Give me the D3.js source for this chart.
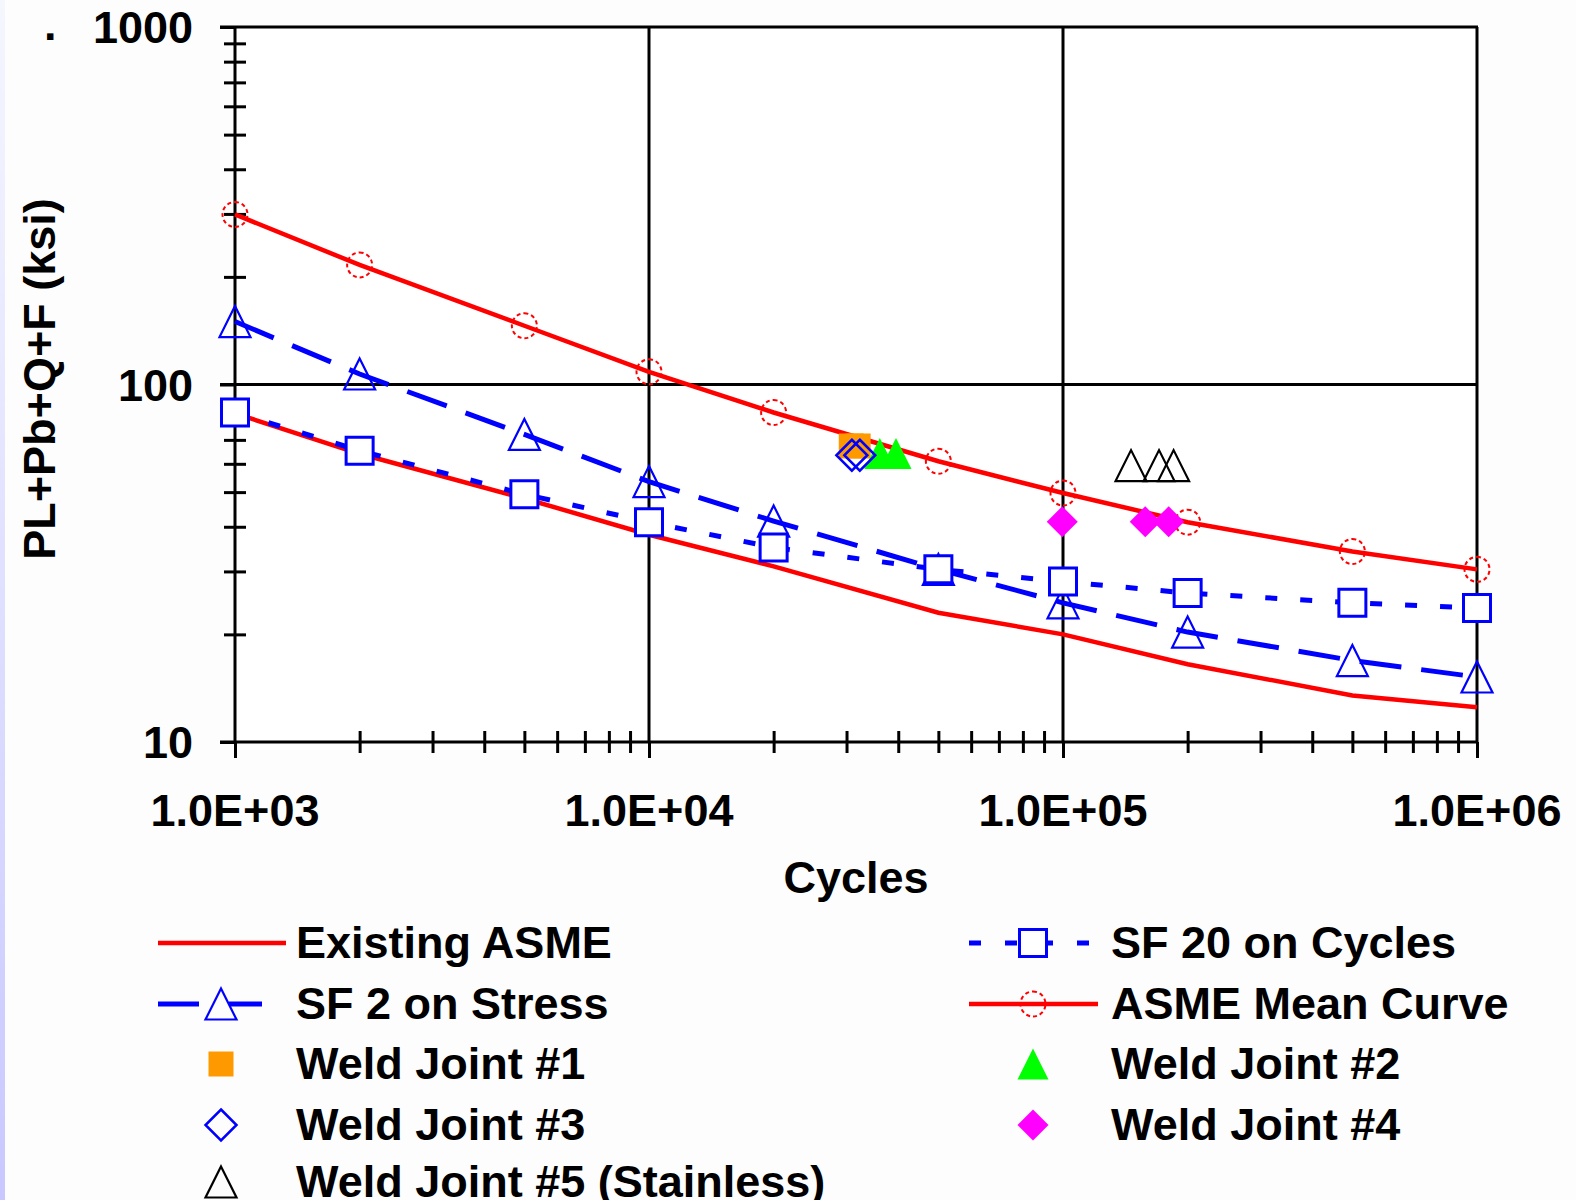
<!DOCTYPE html>
<html lang="en">
  <head>
    <meta charset="UTF-8" />
    <title>Fatigue Design Curves</title>
    <script src="https://d3js.org/d3.v7.min.js"></script>
    <style>
      body {
        margin: 0;
        background: #fdfdfd;
      }
      svg {
        display: block;
      }
      text {
        font-family: 'Liberation Sans', Arial, sans-serif;
        font-weight: bold;
        font-size: 45px;
        fill: #000;
      }
    </style>
  </head>
  <body>
    <svg id="chart" width="1576" height="1200"></svg>
    <script>
      // Curve data (stress in ksi at each cycle count)
      const cycles = [1e3, 2e3, 5e3, 1e4, 2e4, 5e4, 1e5, 2e5, 5e5, 1e6];
      const existingAsme = [83, 64, 48, 38, 31, 23, 20, 16.5, 13.5, 12.5];
      const sf2Stress = [150, 107, 72.5, 53.5, 41.5, 30.4, 24.5, 20.3, 16.9, 15.2];
      const sf20Cycles = [83.5, 65.3, 49.3, 41.2, 35, 30.4, 28.1, 26.1, 24.5, 23.7];
      const asmeMean = [299, 216, 146, 108.5, 83.5, 61, 49.7, 41.2, 34.1, 30.4];

      // Test points [cycles, stress]
      const weld1 = [[30800, 67.3], [32000, 67.3]];
      const weld2 = [[36100, 64.1], [39500, 64.1]];
      const weld3 = [[30900, 63.4], [32300, 63.4]];
      const weld4 = [[99600, 41.3], [158000, 41.3], [180000, 41.3]];
      const weld5 = [[146000, 59.3], [170600, 59.3], [185000, 59.3]];

      const xTickLabels = ['1.0E+03', '1.0E+04', '1.0E+05', '1.0E+06'];
      const yTickLabels = ['10', '100', '1000'];

      const svg = d3.select('#chart');

      // faint stripe on the left edge
      const grad = svg.append('defs').append('linearGradient')
        .attr('id', 'edge').attr('x1', 0).attr('y1', 0).attr('x2', 0).attr('y2', 1);
      grad.append('stop').attr('offset', 0).attr('stop-color', '#f6f6ff');
      grad.append('stop').attr('offset', 1).attr('stop-color', '#c8c8ff');
      svg.append('rect').attr('width', 5).attr('height', 1200).attr('fill', 'url(#edge)');

      const x = d3.scaleLog().domain([1e3, 1e6]).range([235, 1477]);
      const y = d3.scaleLog().domain([10, 1000]).range([742, 27]);

      const g = svg.append('g');
      g.append('rect')
        .attr('x', 235).attr('y', 27)
        .attr('width', 1477 - 235).attr('height', 742 - 27)
        .attr('fill', '#fff');

      const isMajor = (v) => Math.abs(Math.log10(v) - Math.round(Math.log10(v))) < 1e-9;

      // x axis ticks
      const xAxis = g.append('g')
        .attr('transform', 'translate(0,742)')
        .call(d3.axisBottom(x).tickValues(x.ticks()).tickFormat(''));
      xAxis.select('.domain').remove();
      xAxis.selectAll('.tick line')
        .attr('stroke', '#000').attr('stroke-width', 3)
        .attr('y1', (d) => (isMajor(d) ? 0 : -11))
        .attr('y2', (d) => (isMajor(d) ? 16 : 11));

      // y axis ticks
      const yAxis = g.append('g')
        .attr('transform', 'translate(235,0)')
        .call(d3.axisLeft(y).tickValues(y.ticks()).tickFormat(''));
      yAxis.select('.domain').remove();
      yAxis.selectAll('.tick line')
        .attr('stroke', '#000').attr('stroke-width', 3)
        .attr('x1', (d) => (isMajor(d) ? -15 : -11))
        .attr('x2', (d) => (isMajor(d) ? 0 : 11));

      // grid lines and frame
      const majorX = x.ticks().filter(isMajor);
      const majorY = y.ticks().filter(isMajor);
      g.selectAll('.vgrid').data(majorX).join('line')
        .attr('x1', (d) => x(d)).attr('x2', (d) => x(d))
        .attr('y1', 27).attr('y2', 742)
        .attr('stroke', '#000').attr('stroke-width', 3);
      g.selectAll('.hgrid').data(majorY).join('line')
        .attr('x1', 220).attr('x2', 1478)
        .attr('y1', (d) => y(d)).attr('y2', (d) => y(d))
        .attr('stroke', '#000').attr('stroke-width', 3);

      // tick labels
      g.selectAll('.xlab').data(majorX).join('text')
        .attr('x', (d) => x(d)).attr('y', 826)
        .attr('text-anchor', 'middle')
        .text((d, i) => xTickLabels[i]);
      g.selectAll('.ylab').data(majorY).join('text')
        .attr('x', 193).attr('y', (d) => y(d) + 16)
        .attr('text-anchor', 'end')
        .text((d, i) => yTickLabels[i]);
      svg.append('text').attr('x', 44).attr('y', 40).text('.');

      svg.append('text')
        .attr('x', 856).attr('y', 893)
        .attr('text-anchor', 'middle')
        .text('Cycles');
      svg.append('text')
        .attr('transform', 'translate(55,379) rotate(-90)')
        .attr('text-anchor', 'middle')
        .text('PL+Pb+Q+F (ksi)');

      // marker shapes, centred on their bounding box
      function markerPath(shape, s) {
        const h = s / 2;
        if (shape === 'square') return `M${-h},${-h}H${h}V${h}H${-h}Z`;
        if (shape === 'triangle') return `M0,${-h}L${h},${h}L${-h},${h}Z`;
        if (shape === 'diamond') return `M0,${-h}L${h},0L0,${h}L${-h},0Z`;
        return d3.arc()({ innerRadius: 0, outerRadius: h, startAngle: 0, endAngle: 2 * Math.PI });
      }

      const lineSeries = [
        { name: 'Existing ASME', values: existingAsme, color: '#ff0000', width: 4.5, dash: null, marker: null },
        { name: 'SF 2 on Stress', values: sf2Stress, color: '#0000ff', width: 5, dash: '42,20',
          marker: { shape: 'triangle', size: 31, fill: 'none', sw: 2.2 } },
        { name: 'SF 20 on Cycles', values: sf20Cycles, color: '#0000ff', width: 5, dash: '12,23',
          marker: { shape: 'square', size: 27, fill: '#fff', sw: 3 } },
        { name: 'ASME Mean Curve', values: asmeMean, color: '#ff0000', width: 4.5, dash: null,
          marker: { shape: 'circle', size: 25, fill: 'none', sw: 2, dash: '4,3' } },
      ];

      const line = d3.line().x((d) => x(d[0])).y((d) => y(d[1]));

      lineSeries.forEach((s) => {
        const pts = cycles.map((c, i) => [c, s.values[i]]);
        g.append('path')
          .attr('d', line(pts))
          .attr('fill', 'none')
          .attr('stroke', s.color)
          .attr('stroke-width', s.width)
          .attr('stroke-dasharray', s.dash);
        if (s.marker) {
          g.selectAll(null).data(pts).join('path')
            .attr('d', markerPath(s.marker.shape, s.marker.size))
            .attr('transform', (d) => `translate(${x(d[0])},${y(d[1])})`)
            .attr('fill', s.marker.fill)
            .attr('stroke', s.color)
            .attr('stroke-width', s.marker.sw)
            .attr('stroke-dasharray', s.marker.dash || null);
        }
      });

      const pointSeries = [
        { name: 'Weld Joint #1', values: weld1, shape: 'square', size: 25, fill: '#ff9900', stroke: 'none', sw: 0 },
        { name: 'Weld Joint #2', values: weld2, shape: 'triangle', size: 31, fill: '#00ff00', stroke: 'none', sw: 0 },
        { name: 'Weld Joint #3', values: weld3, shape: 'diamond', size: 31, fill: 'none', stroke: '#0000ff', sw: 2.5 },
        { name: 'Weld Joint #4', values: weld4, shape: 'diamond', size: 31, fill: '#ff00ff', stroke: 'none', sw: 0 },
        { name: 'Weld Joint #5 (Stainless)', values: weld5, shape: 'triangle', size: 31, fill: 'none', stroke: '#000', sw: 2.2 },
      ];

      pointSeries.forEach((s) => {
        g.selectAll(null).data(s.values).join('path')
          .attr('d', markerPath(s.shape, s.size))
          .attr('transform', (d) => `translate(${x(d[0])},${y(d[1])})`)
          .attr('fill', s.fill)
          .attr('stroke', s.stroke)
          .attr('stroke-width', s.sw);
      });

      // legend: two columns
      const leg = svg.append('g');
      const rowsY = [943, 1004, 1064, 1125, 1182];
      const cols = [
        { cx: 221, tx: 296, x1: 158, x2: 286 },
        { cx: 1033, tx: 1111, x1: 969, x2: 1098 },
      ];
      const legendItems = [
        { s: lineSeries[0], col: 0, row: 0 },
        { s: lineSeries[2], col: 1, row: 0, dash: '12,24' },
        { s: lineSeries[1], col: 0, row: 1, dash: '41,30,33,24,3' },
        { s: lineSeries[3], col: 1, row: 1 },
        { p: pointSeries[0], col: 0, row: 2 },
        { p: pointSeries[1], col: 1, row: 2 },
        { p: pointSeries[2], col: 0, row: 3 },
        { p: pointSeries[3], col: 1, row: 3 },
        { p: pointSeries[4], col: 0, row: 4 },
      ];

      legendItems.forEach((it) => {
        const c = cols[it.col];
        const cy = rowsY[it.row];
        if (it.s) {
          leg.append('line')
            .attr('x1', c.x1).attr('x2', c.x2).attr('y1', cy).attr('y2', cy)
            .attr('stroke', it.s.color).attr('stroke-width', it.s.width)
            .attr('stroke-dasharray', it.dash || it.s.dash);
          if (it.s.marker) {
            leg.append('path')
              .attr('d', markerPath(it.s.marker.shape, it.s.marker.size))
              .attr('transform', `translate(${c.cx},${cy})`)
              .attr('fill', it.s.marker.fill)
              .attr('stroke', it.s.color)
              .attr('stroke-width', it.s.marker.sw)
              .attr('stroke-dasharray', it.s.marker.dash || null);
          }
        } else {
          leg.append('path')
            .attr('d', markerPath(it.p.shape, it.p.size))
            .attr('transform', `translate(${c.cx},${cy})`)
            .attr('fill', it.p.fill)
            .attr('stroke', it.p.stroke)
            .attr('stroke-width', it.p.sw);
        }
        leg.append('text')
          .attr('x', c.tx).attr('y', cy + 15)
          .text((it.s || it.p).name);
      });
    </script>
  </body>
</html>
